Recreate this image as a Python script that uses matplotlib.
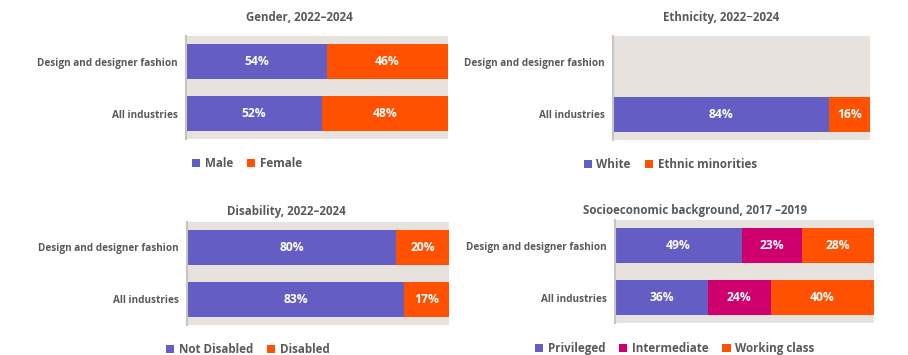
import matplotlib
matplotlib.use("Agg")
import matplotlib.pyplot as plt
from matplotlib.patches import Patch

plt.rcParams['font.family'] = ['Open Sans', 'DejaVu Sans']
plt.rcParams['font.weight'] = 'bold'

PURPLE = '#645EC4'
ORANGE = '#FF5100'
MAGENTA = '#CF006E'
BG = '#E7E2DE'
GREY = '#595959'

groups = ['Design and designer fashion', 'All industries']

gender_labels = ['Male', 'Female']
gender_vals = [[54, 52], [46, 48]]

ethnicity_labels = ['White', 'Ethnic minorities']
ethnicity_vals = [[None, 84], [None, 16]]

disability_labels = ['Not Disabled', 'Disabled']
disability_vals = [[80, 83], [20, 17]]

socio_labels = ['Privileged', 'Intermediate', 'Working class']
socio_vals = [[49, 36], [23, 24], [28, 40]]

# title, legend labels, values per category, colours, axes rect,
# title x (axes coords), title pad, legend centre (figure coords)
panels = [
    ('Gender, 2022\u20132024', gender_labels, gender_vals, [PURPLE, ORANGE],
     [0.205, 0.608, 0.288, 0.290], 0.433, 11, (0.272, 0.539)),
    ('Ethnicity, 2022\u22122024', ethnicity_labels, ethnicity_vals, [PURPLE, ORANGE],
     [0.675, 0.606, 0.283, 0.293], 0.42, 11, (0.738, 0.536)),
    ('Disability, 2022\u20132024', disability_labels, disability_vals, [PURPLE, ORANGE],
     [0.206, 0.085, 0.288, 0.290], 0.38, 5, (0.273, 0.016)),
    ('Socioeconomic background, 2017 \u20132019', socio_labels, socio_vals,
     [PURPLE, MAGENTA, ORANGE], [0.677, 0.090, 0.286, 0.290], 0.31, 4.5, (0.743, 0.019)),
]

fig = plt.figure(figsize=(9.08, 3.55), dpi=100)

for title, labels, vals, colors, rect, tx, tpad, legpos in panels:
    ax = fig.add_axes(rect)
    ax.set_facecolor(BG)
    ypos = [0, 1]
    left = [0, 0]
    for lab, series, col in zip(labels, vals, colors):
        for i, v in enumerate(series):
            if v is None:
                continue
            ax.barh(ypos[i], v, left=left[i], height=0.67, color=col)
            ax.text(left[i] + v / 2, ypos[i], f'{v}%', ha='center', va='center',
                    color='white', fontsize=8.7, fontweight='bold')
            left[i] += v
    ax.set_xlim(0, 100)
    ax.set_ylim(1.49, -0.49)
    ax.set_yticks(ypos)
    ax.set_yticklabels(groups, color=GREY, fontsize=7.2, fontweight='bold')
    ax.tick_params(axis='y', length=0, pad=6)
    ax.set_xticks([])
    for side in ['top', 'right', 'bottom']:
        ax.spines[side].set_visible(False)
    ax.spines['left'].set_color('#C8C4C0')
    ax.spines['left'].set_linewidth(1.5)
    ax.set_title(title, color=GREY, fontsize=8.3, fontweight='bold', pad=tpad, x=tx)
    handles = [Patch(facecolor=c, label=l) for l, c in zip(labels, colors)]
    leg = fig.legend(handles=handles, loc='center', bbox_to_anchor=legpos,
                     ncol=len(labels), frameon=False, handlelength=0.7, handleheight=0.7,
                     handletextpad=0.4, columnspacing=1.2,
                     prop={'size': 8.4, 'weight': 'bold'})
    for t in leg.get_texts():
        t.set_color(GREY)

fig.savefig('out.png', dpi=100, facecolor='white')
